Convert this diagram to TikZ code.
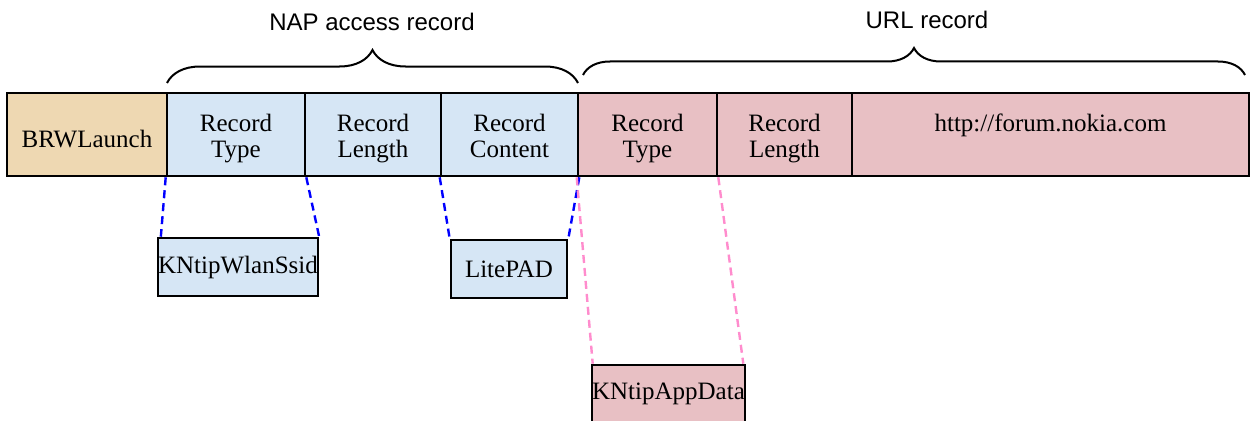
\documentclass[tikz,border=0pt]{standalone}
\usepackage{fontspec}
\setmainfont{Liberation Serif}
\setsansfont{Liberation Sans}
\usetikzlibrary{decorations.pathreplacing}
\definecolor{tanfill}{RGB}{238,216,178}
\definecolor{bluefill}{RGB}{214,230,245}
\definecolor{pinkfill}{RGB}{232,192,196}
\definecolor{pinkline}{RGB}{255,140,205}
\begin{document}
\begin{tikzpicture}[x=1pt,y=-1pt,
  cell/.style={draw=black,line width=2.6pt,inner sep=0pt,
    minimum height=83pt},
  celltext/.style={align=center,inner sep=0pt,yshift=-5pt,
    font=\fontsize{25}{26}\selectfont},
  subbox/.style={draw=black,line width=2.6pt,inner sep=0pt,align=center,
    minimum height=58pt,font=\fontsize{25}{26}\selectfont},
  bluedash/.style={draw=blue,line width=2.4pt,dash pattern=on 8pt off 5pt},
  pinkdash/.style={draw=pinkline,line width=2.4pt,dash pattern=on 8pt off 5pt},
  bracestyle/.style={draw=black,line width=2pt},
  title/.style={font=\sffamily\fontsize{24}{28}\selectfont}]
\useasboundingbox (0,0) rectangle (1257,420);
% main bar
\node[cell,fill=tanfill,minimum width=160pt,label={[celltext]center:BRWLaunch}] (brw) at (87,134.5) {};
\node[cell,fill=bluefill,minimum width=138pt,label={[celltext]center:Record\strut\\Type\strut}] (rt1) at (236,134.5) {};
\node[cell,fill=bluefill,minimum width=136pt,label={[celltext]center:Record\strut\\Length\strut}] (rl1) at (373,134.5) {};
\node[cell,fill=bluefill,minimum width=137pt,label={[celltext]center:Record\strut\\Content\strut}] (rc) at (509.5,134.5) {};
\node[cell,fill=pinkfill,minimum width=139pt,label={[celltext]center:Record\strut\\Type\strut}] (rt2) at (647.5,134.5) {};
\node[cell,fill=pinkfill,minimum width=135pt,label={[celltext]center:Record\strut\\Length\strut}] (rl2) at (784.5,134.5) {};
\node[cell,fill=pinkfill,minimum width=397pt,label={[celltext]center:http://forum.nokia.com\strut\\\strut}] (url) at (1050.5,134.5) {};
% sub boxes
\node[subbox,fill=bluefill,minimum width=158pt] (ws) at (238,267) {KNtipWlanSsid};
\node[subbox,fill=bluefill,minimum width=116pt] (lp) at (509,269) {LitePAD};
\node[subbox,fill=pinkfill,minimum width=153pt] (ad) at (668.5,394) {KNtipAppData};
% connectors
\draw[bluedash] (rt1.south west) -- ([xshift=4pt]ws.north west);
\draw[bluedash] (rt1.south east) -- (ws.north east);
\draw[bluedash] (rc.south west) -- (lp.north west);
\draw[bluedash] (rc.south east) -- (lp.north east);
\draw[pinkdash] (rt2.south west) -- ([xshift=2pt]ad.north west);
\draw[pinkdash] (rt2.south east) -- ([xshift=-3pt]ad.north east);
% braces
\coordinate (b1s) at (167,83);
\coordinate (b1e) at (578,83);
\coordinate (b2s) at (583,75);
\coordinate (b2e) at (1245,75);
\draw[bracestyle,decorate,decoration={brace,amplitude=33pt}] (b1s) -- (b1e);
\draw[bracestyle,decorate,decoration={brace,amplitude=27pt}] (b2s) -- (b2e);
% titles
\node[title] (napt) at (372,22) {NAP access record};
\node[title] (urlt) at (927,20) {URL record};
\end{tikzpicture}
\end{document}
